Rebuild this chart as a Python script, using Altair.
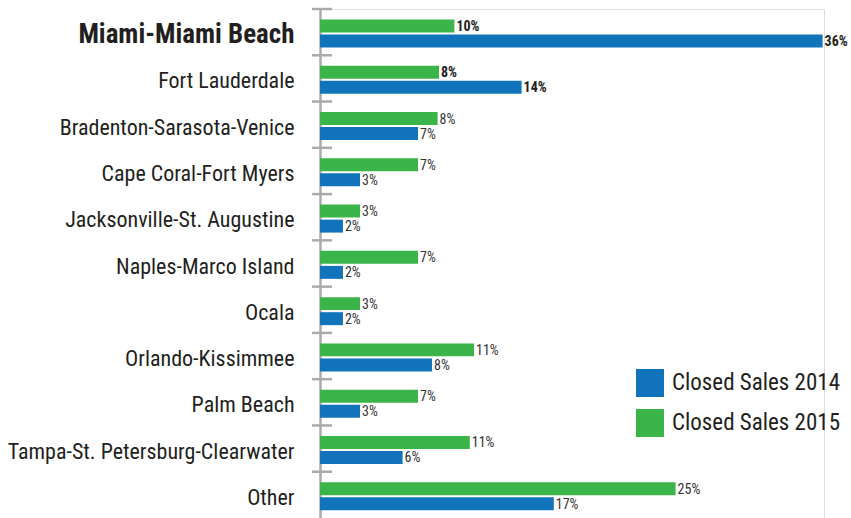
import altair as alt
import pandas as pd

regions = [
    "Miami-Miami Beach", "Fort Lauderdale", "Bradenton-Sarasota-Venice",
    "Cape Coral-Fort Myers", "Jacksonville-St. Augustine", "Naples-Marco Island",
    "Ocala", "Orlando-Kissimmee", "Palm Beach", "Tampa-St. Petersburg-Clearwater", "Other",
]
# bar lengths (percent)
sales_2015 = [9.6, 8.5, 8.4, 7.0, 2.86, 7.0, 2.86, 11.0, 7.0, 10.7, 25.4]
sales_2014 = [35.9, 14.4, 7.0, 2.86, 1.64, 1.64, 1.64, 8.0, 2.86, 5.9, 16.7]
# printed value labels
labels_2015 = ["10%", "8%", "8%", "7%", "3%", "7%", "3%", "11%", "7%", "11%", "25%"]
labels_2014 = ["36%", "14%", "7%", "3%", "2%", "2%", "2%", "8%", "3%", "6%", "17%"]
series_names = ["Closed Sales 2014", "Closed Sales 2015"]
bold_regions = ["Miami-Miami Beach", "Fort Lauderdale"]

rows = []
for i, r in enumerate(regions):
    rows.append({"region": r, "series": series_names[1], "value": sales_2015[i], "label": labels_2015[i]})
    rows.append({"region": r, "series": series_names[0], "value": sales_2014[i], "label": labels_2014[i]})
df = pd.DataFrame(rows)
ticks_df = pd.DataFrame({"region": regions})

FONT = "Liberation Sans Narrow, Roboto Condensed, DejaVu Sans Condensed, Arial Narrow, sans-serif"
BLUE = "#1174BB"
GREEN = "#3BB54A"
GRAY = "#ABABAD"

y_enc = alt.Y(
    "region:N", sort=regions, title=None,
    scale=alt.Scale(paddingInner=0, paddingOuter=0),
    axis=alt.Axis(
        ticks=False, domain=True, domainColor=GRAY, domainWidth=2.5,
        labelPadding=26, labelFont=FONT, labelColor="#231F20", labelOffset=3,
        labelFontSize=alt.expr("datum.value === 'Miami-Miami Beach' ? 27 : 22"),
        labelFontWeight=alt.expr("datum.value === 'Miami-Miami Beach' ? 'bold' : 'normal'"),
        labelLimit=400,
    ),
)
x_enc = alt.X("value:Q", scale=alt.Scale(domain=[0, 36], nice=False, zero=True), axis=None)
yoff = alt.YOffset(
    "series:N", sort=[series_names[1], series_names[0]],
    scale=alt.Scale(range=[10.5, 38.5], paddingInner=0.14, paddingOuter=0),
)

bars = alt.Chart(df).mark_bar().encode(
    y=y_enc, x=x_enc, yOffset=yoff,
    color=alt.Color(
        "series:N",
        scale=alt.Scale(domain=series_names, range=[BLUE, GREEN]),
        legend=alt.Legend(
            title=None, orient="none", legendX=316, legendY=360,
            symbolType="square", symbolSize=784, symbolStrokeWidth=0, symbolOpacity=1,
            labelFont=FONT, labelFontSize=23, labelColor="#231F20",
            labelOffset=8, rowPadding=12, labelLimit=300,
        ),
    ),
)

text_base = alt.Chart(df).encode(
    y=alt.Y("region:N", sort=regions), x=x_enc, yOffset=yoff, text="label:N",
)
text_bold = text_base.transform_filter(
    alt.FieldOneOfPredicate(field="region", oneOf=bold_regions)
).mark_text(align="left", baseline="middle", dx=2, dy=1, font=FONT, fontSize=14,
            fontWeight="bold", color="#231F20")
text_norm = text_base.transform_filter(
    ~alt.FieldOneOfPredicate(field="region", oneOf=bold_regions)
).mark_text(align="left", baseline="middle", dx=2, dy=1, font=FONT, fontSize=14,
            color="#333333")

ticks = alt.Chart(ticks_df).mark_rule(color=GRAY, strokeWidth=2.5).encode(
    y=alt.Y("region:N", sort=regions, bandPosition=0),
    x=alt.value(-8), x2=alt.value(12),
)

chart = alt.layer(bars, ticks, text_bold, text_norm).properties(
    width=504, height=509,
    autosize=alt.AutoSizeParams(type="none"),
    padding={"left": 320, "top": 9, "right": 27, "bottom": 0},
).configure_view(stroke=None).configure(background="white")

chart.save("out.html", embed_options={"renderer": "svg", "actions": False})
